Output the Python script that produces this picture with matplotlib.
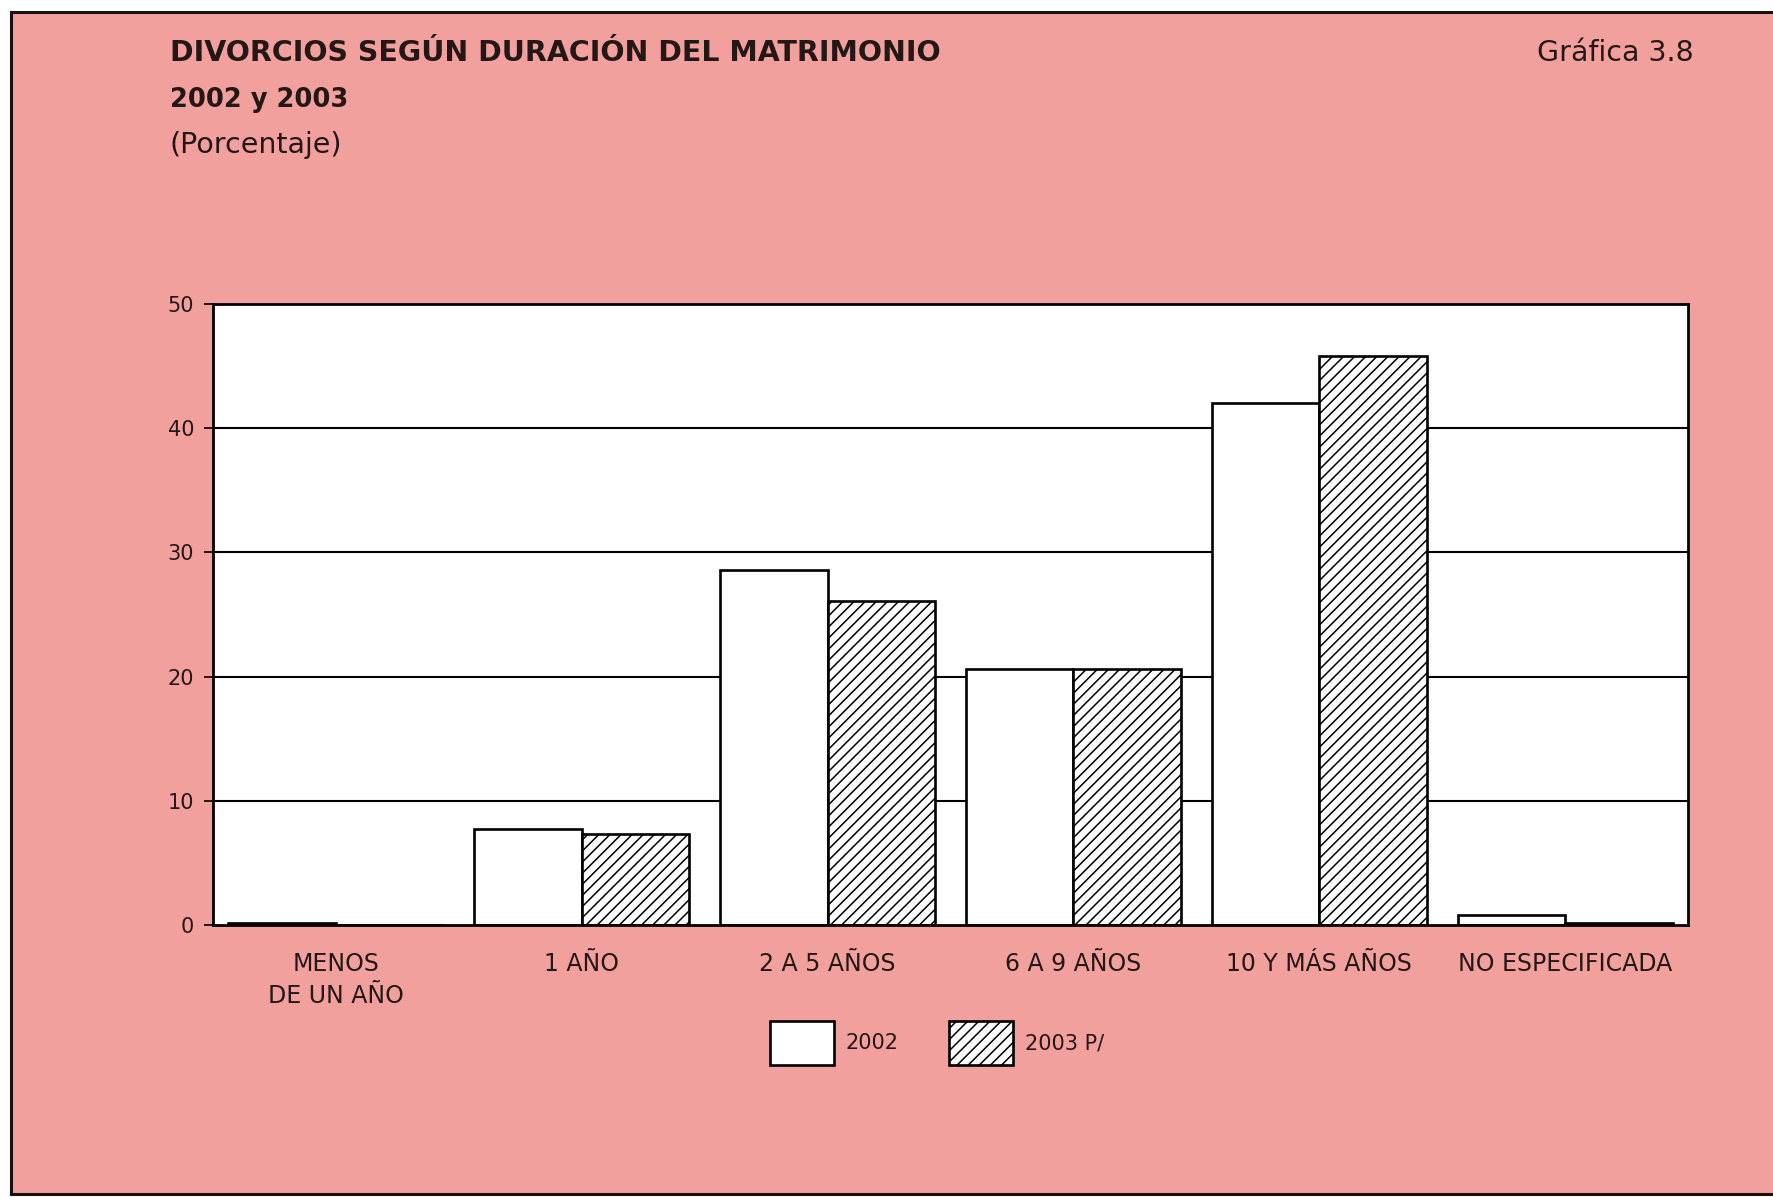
import matplotlib
matplotlib.use("Agg")
import matplotlib.pyplot as plt
import numpy as np
from matplotlib.patches import Rectangle, Patch

plt.rcParams['font.family'] = ['DejaVu Sans']
plt.rcParams['hatch.linewidth'] = 1.1

categories = ["MENOS\nDE UN AÑO", "1 AÑO", "2 A 5 AÑOS", "6 A 9 AÑOS", "10 Y MÁS AÑOS", "NO ESPECIFICADA"]
values_2002 = [0.2, 7.7, 28.6, 20.6, 42.0, 0.8]
values_2003 = [0.0, 7.3, 26.1, 20.6, 45.8, 0.15]
series_labels = ["2002", "2003 P/"]
yticks = [0, 10, 20, 30, 40, 50]

PINK = '#F2A09E'
TXT = '#231815'

fig = plt.figure(figsize=(17.74, 11.97), dpi=100, facecolor='white')
bg = Rectangle((11/1774, 0.0025), 1.0, 1 - 12/1197 - 0.0025, transform=fig.transFigure,
               facecolor=PINK, edgecolor='#1a1010', linewidth=2.2, zorder=-10)
fig.patches.append(bg)

ax = fig.add_axes([213/1774, 1 - 925/1197, (1688-213)/1774, (925-304)/1197])
ax.set_facecolor('white')

x = np.arange(len(categories))
w = 0.437
ax.bar(x - w/2, values_2002, w, facecolor='white', edgecolor='black', linewidth=1.9, zorder=3)
ax.bar(x + w/2, values_2003, w, facecolor='white', edgecolor='black', linewidth=1.9,
       hatch='///', zorder=3)

ax.set_xlim(-0.5, len(categories) - 0.5)
ax.set_ylim(0, 50)
ax.set_yticks(yticks)
ax.set_yticklabels([str(t) for t in yticks], fontsize=15, color=TXT)
ax.tick_params(axis='y', direction='out', length=6.5, width=1.2, pad=7, colors='black', labelcolor=TXT)
ax.set_xticks(x)
ax.set_xticklabels(categories, fontsize=17, color=TXT, linespacing=1.42)
ax.tick_params(axis='x', length=0, pad=19.5)
for y in yticks[1:-1]:
    ax.axhline(y, color='black', linewidth=1.5, zorder=1)
for s in ax.spines.values():
    s.set_linewidth(2.0)
    s.set_color('black')
    s.set_zorder(5)

handles = [Patch(facecolor='white', edgecolor='black', linewidth=1.9),
           Patch(facecolor='white', edgecolor='black', linewidth=1.9, hatch='///')]
fig.legend(handles, series_labels, loc='center', bbox_to_anchor=(937/1774, 1 - 1043/1197),
           ncol=2, frameon=False, fontsize=15, handlelength=3.07, handleheight=2.87,
           handletextpad=0.58, columnspacing=2.4, labelcolor=TXT)

fig.text(170/1774, 1 - 53/1197, "DIVORCIOS SEGÚN DURACIÓN DEL MATRIMONIO", fontsize=20.5,
         fontweight='bold', color=TXT, ha='left', va='center')
fig.text(170/1774, 1 - 100/1197, "2002 y 2003", fontsize=18.5, fontweight='bold', color=TXT,
         ha='left', va='center')
fig.text(170/1774, 1 - 145/1197, "(Porcentaje)", fontsize=20.5, color=TXT, ha='left', va='center')
fig.text(1694/1774, 1 - 53/1197, "Gráfica 3.8", fontsize=20.5, color=TXT, ha='right', va='center')

fig.savefig("out.png", dpi=100, facecolor='white')
